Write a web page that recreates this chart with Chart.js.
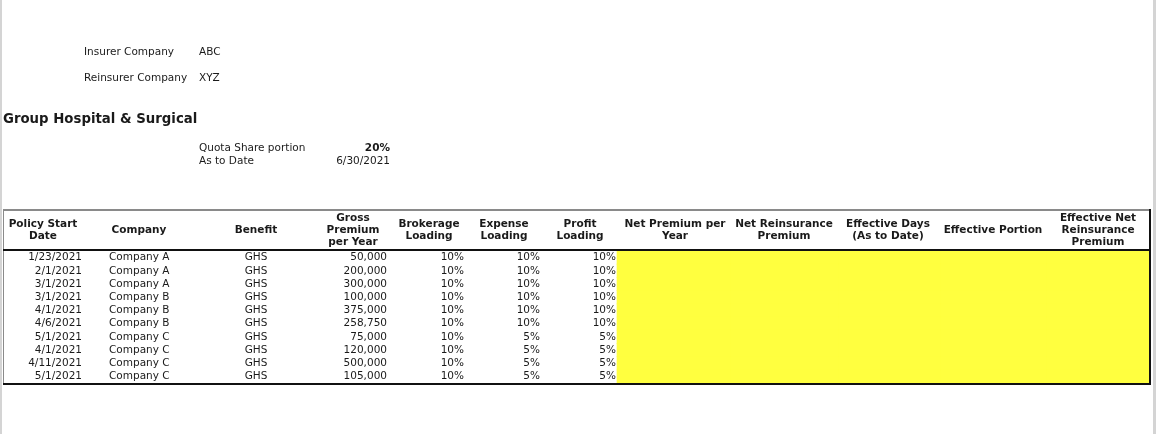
<!DOCTYPE html>
<html>
<head>
<meta charset="utf-8">
<script src="https://cdn.jsdelivr.net/npm/chart.js@4.4.1/dist/chart.umd.min.js"></script>
<style>
  html, body { margin: 0; padding: 0; background: #fff; }
  canvas { display: block; }
</style>
</head>
<body>
<canvas id="hoja" width="1156" height="434"></canvas>
<script>
// ==================== DATOS ====================
const insurer = 'ABC';
const reinsurer = 'XYZ';
const quotaShare = '20%';
const asToDate = '6/30/2021';

const policyDates = ['1/23/2021', '2/1/2021', '3/1/2021', '3/1/2021', '4/1/2021', '4/6/2021', '5/1/2021', '4/1/2021', '4/11/2021', '5/1/2021'];
const companies = ['Company A', 'Company A', 'Company A', 'Company B', 'Company B', 'Company B', 'Company C', 'Company C', 'Company C', 'Company C'];
const benefits = ['GHS', 'GHS', 'GHS', 'GHS', 'GHS', 'GHS', 'GHS', 'GHS', 'GHS', 'GHS'];
const grossPremium = [50000, 200000, 300000, 100000, 375000, 258750, 75000, 120000, 500000, 105000];
const brokerage = [10, 10, 10, 10, 10, 10, 10, 10, 10, 10];
const expense = [10, 10, 10, 10, 10, 10, 5, 5, 5, 5];
const profit = [10, 10, 10, 10, 10, 10, 5, 5, 5, 5];

const headers = [
    ['Policy Start', 'Date'],
    ['Company'],
    ['Benefit'],
    ['Gross', 'Premium', 'per Year'],
    ['Brokerage', 'Loading'],
    ['Expense', 'Loading'],
    ['Profit', 'Loading'],
    ['Net Premium per', 'Year'],
    ['Net Reinsurance', 'Premium'],
    ['Effective Days', '(As to Date)'],
    ['Effective Portion'],
    ['Effective Net', 'Reinsurance', 'Premium']
];

// ==================== LAYOUT ====================
const tablaIzq = 3, tablaDer = 1150;
// centro de cabecera por columna
const headerX = [43, 139, 256, 353, 429, 504, 580, 675, 784, 888, 993, 1098];
// bordes de las columnas amarillas (Net Premium ... Effective Net Reinsurance Premium)
const yellowEdges = [617, 730, 838, 940, 1046, 1149];
const yellowNames = headers.slice(7).map(h => h.join(' '));

const rowLabels = policyDates.map((d, i) => String(i + 1));

const FONT = '"DejaVu Sans", Verdana, sans-serif';
const pct = v => v + '%';

const columnasDatos = [
    { valores: policyDates, x: 82, align: 'right' },
    { valores: companies, x: 109, align: 'left' },
    { valores: benefits, x: 256, align: 'center' },
    { valores: grossPremium.map(v => v.toLocaleString('en-US')), x: 387, align: 'right' },
    { valores: brokerage.map(pct), x: 464, align: 'right' },
    { valores: expense.map(pct), x: 540, align: 'right' },
    { valores: profit.map(pct), x: 616, align: 'right' }
];

const hojaPlugin = {
    id: 'hoja',
    beforeDraw(chart) {
        const c = chart.ctx;
        c.save();
        c.fillStyle = '#ffffff';
        c.fillRect(0, 0, chart.width, chart.height);
        c.fillStyle = '#d4d4d4';
        c.fillRect(0, 0, 2, chart.height);
        c.fillRect(chart.width - 3, 0, 3, chart.height);
        c.restore();
    },
    afterDraw(chart) {
        const c = chart.ctx;
        const xs = chart.scales.x, ys = chart.scales.y;
        const area = chart.chartArea;
        c.save();
        c.fillStyle = '#1a1a1a';
        c.textBaseline = 'middle';

        // encabezado superior
        c.font = '10.5px ' + FONT;
        c.textAlign = 'left';
        c.fillText('Insurer Company', 84, 52);
        c.fillText(insurer, 199, 52);
        c.fillText('Reinsurer Company', 84, 78);
        c.fillText(reinsurer, 199, 78);

        c.font = 'bold 13.3px ' + FONT;
        c.fillText('Group Hospital & Surgical', 3, 120);

        c.font = '10.5px ' + FONT;
        c.fillText('Quota Share portion', 199, 148);
        c.fillText('As to Date', 199, 161);
        c.textAlign = 'right';
        c.fillText(asToDate, 390, 161);
        c.font = 'bold 10.5px ' + FONT;
        c.fillText(quotaShare, 390, 148);

        // cabeceras de la tabla
        c.font = 'bold 10.5px ' + FONT;
        c.textAlign = 'center';
        const centroCab = 230, linea = 12;
        headers.forEach((lineas, i) => {
            const y0 = centroCab - (lineas.length - 1) * linea / 2;
            lineas.forEach((t, j) => c.fillText(t, headerX[i], y0 + j * linea));
        });

        // datos
        c.font = '10.5px ' + FONT;
        columnasDatos.forEach(col => {
            c.textAlign = col.align;
            col.valores.forEach((v, i) => {
                c.fillText(v, xs.getPixelForValue(col.x), ys.getPixelForValue(i));
            });
        });

        // bordes
        const izq = xs.getPixelForValue(tablaIzq), der = xs.getPixelForValue(tablaDer);
        c.fillStyle = '#8a8a8a';
        c.fillRect(izq, 209, der - izq, 2);
        c.fillRect(izq, 209, 1, area.bottom - 209 + 2);
        c.fillStyle = '#111';
        c.fillRect(izq, area.top - 2, der - izq, 2);
        c.fillRect(izq, area.bottom, der - izq + 1, 2);
        c.fillRect(der - 1, 209, 2, area.bottom - 209 + 2);
        c.restore();
    }
};

new Chart(document.getElementById('hoja').getContext('2d'), {
    type: 'bar',
    data: {
        labels: rowLabels,
        datasets: yellowNames.map((nombre, k) => ({
            label: nombre,
            data: rowLabels.map(() => [yellowEdges[k], yellowEdges[k + 1]]),
            backgroundColor: '#ffff3f',
            borderWidth: 0,
            barPercentage: 1,
            categoryPercentage: 1,
            grouped: false
        }))
    },
    options: {
        indexAxis: 'y',
        responsive: false,
        animation: false,
        layout: { padding: { top: 251, bottom: 51, left: 3, right: 6 } },
        scales: {
            x: { type: 'linear', min: tablaIzq, max: tablaDer, display: false },
            y: { type: 'category', display: false, offset: true }
        },
        plugins: { legend: { display: false }, tooltip: { enabled: false } }
    },
    plugins: [hojaPlugin]
});
</script>
</body>
</html>
